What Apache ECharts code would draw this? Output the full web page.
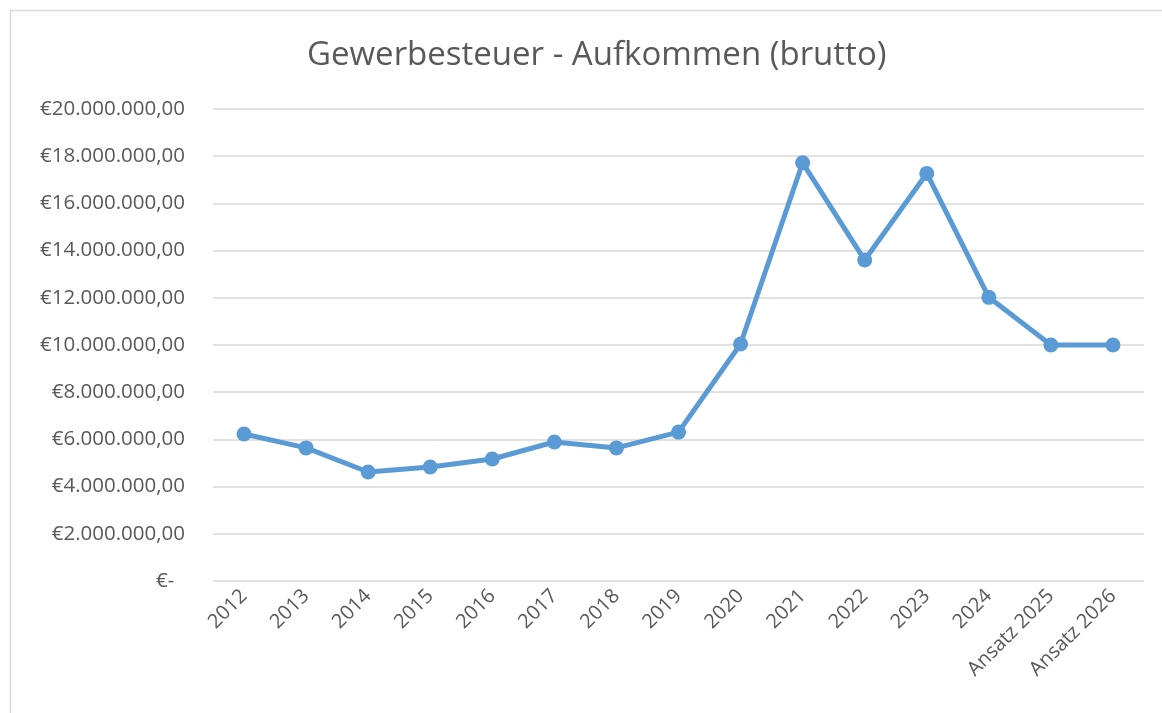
<!DOCTYPE html>
<html>
<head>
<meta charset="utf-8">
<script src="https://cdn.jsdelivr.net/npm/echarts@6/dist/echarts.min.js"></script>
<style>
  html, body { margin: 0; padding: 0; background: #fff; }
  #chart { width: 1162px; height: 713px; }
</style>
</head>
<body>
<div id="chart"></div>
<script>
const categories = ['2012', '2013', '2014', '2015', '2016', '2017', '2018', '2019',
  '2020', '2021', '2022', '2023', '2024', 'Ansatz 2025', 'Ansatz 2026']
const aufkommen = [6230000, 5640000, 4620000, 4830000, 5170000, 5890000, 5640000, 6310000,
  10040000, 17720000, 13600000, 17270000, 12020000, 10000000, 10000000]

const formatEuro = function (v) {
  if (v === 0) return '€-  '
  const parts = v.toFixed(2).split('.')
  const int = parts[0].replace(/\B(?=(\d{3})+(?!\d))/g, '.')
  return '€' + int + ',' + parts[1]
}

const chart = echarts.init(document.getElementById('chart'))
const textColor = '#595959'
const font = '"Open Sans", Lato, sans-serif'

chart.setOption({
  animation: false,
  title: {
    text: 'Gewerbesteuer - Aufkommen (brutto)',
    left: 302,
    top: 34,
    textStyle: { color: textColor, fontSize: 33, fontWeight: 'normal', fontFamily: font }
  },
  graphic: [{
    type: 'rect',
    shape: { x: 10.5, y: 10.5, width: 1200, height: 800 },
    style: { fill: 'none', stroke: '#d9d9d9', lineWidth: 1.5 },
    silent: true
  }],
  grid: { left: 213, right: 18, top: 109, bottom: 132 },
  xAxis: {
    type: 'category',
    data: categories,
    boundaryGap: true,
    axisLine: { show: false },
    axisTick: { show: false },
    axisLabel: { rotate: 45, color: textColor, fontSize: 20, fontFamily: font, margin: 12 }
  },
  yAxis: {
    type: 'value',
    min: 0,
    max: 20000000,
    interval: 2000000,
    axisLine: { show: false },
    axisTick: { show: false },
    splitLine: { lineStyle: { color: '#d9d9d9', width: 1.5 } },
    axisLabel: { color: textColor, fontSize: 20.5, fontFamily: font, margin: 28, formatter: formatEuro }
  },
  series: [{
    type: 'line',
    data: aufkommen,
    symbol: 'circle',
    symbolSize: 15,
    lineStyle: { color: '#5b9bd5', width: 5 },
    itemStyle: { color: '#5b9bd5' }
  }]
})
</script>
</body>
</html>
